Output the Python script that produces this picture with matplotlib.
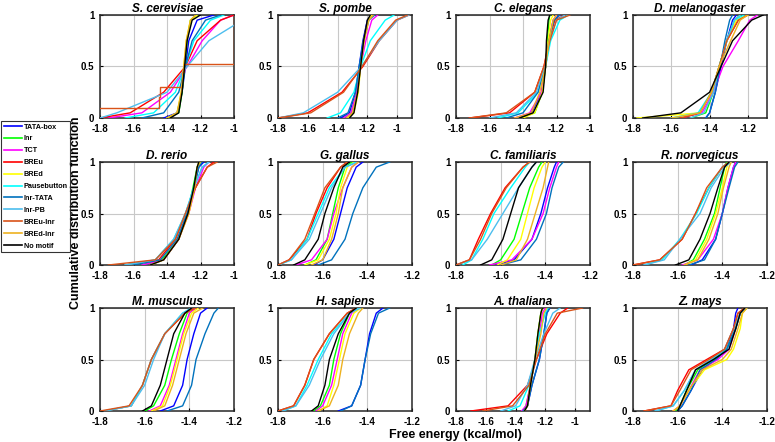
import matplotlib
matplotlib.use("Agg")
import matplotlib.pyplot as plt
from matplotlib.lines import Line2D
import numpy as np

plt.rcParams['font.family'] = ['Liberation Sans', 'DejaVu Sans']
plt.rcParams['axes.unicode_minus'] = False

# ---------------- data ----------------
series_names = ["TATA-box", "Inr", "TCT", "BREu", "BREd", "Pausebutton",
                "Inr-TATA", "Inr-PB", "BREu-Inr", "BREd-Inr", "No motif"]
series_colors = ["#0000FF", "#00FF00", "#FF00FF", "#FF0000", "#FFFF00", "#00FFFF",
                 "#0072BD", "#4DBEEE", "#D95319", "#EDB120", "#000000"]

species = ["S. cerevisiae", "S. pombe", "C. elegans", "D. melanogaster",
           "D. rerio", "G. gallus", "C. familiaris", "R. norvegicus",
           "M. musculus", "H. sapiens", "A. thaliana", "Z. mays"]
x_max = [-1.0, -0.9, -1.0, -1.1, -1.0, -1.2, -1.2, -1.2, -1.2, -1.2, -0.9, -1.2]

# cumulative levels at which free-energy quantiles were read
cdf_levels = [0, 0.05, 0.25, 0.5, 0.75, 0.95, 1]
cdf_levels_zmays = [0, 0.05, 0.2, 0.4, 0.5, 0.6, 0.8, 0.95, 1]

# quantiles (kcal/mol), one row per motif in series_names order (None = special)
scer = [[-1.42, -1.34, -1.31, -1.29, -1.27, -1.22, -1.12],
        [-1.40, -1.33, -1.31, -1.295, -1.28, -1.26, -1.22],
        [-1.75, -1.55, -1.38, -1.28, -1.19, -1.08, -1.00],
        [-1.80, -1.62, -1.42, -1.29, -1.22, -1.08, -1.00],
        [-1.40, -1.34, -1.315, -1.30, -1.285, -1.26, -1.22],
        [-1.65, -1.48, -1.35, -1.29, -1.24, -1.14, -1.06],
        [-1.55, -1.42, -1.33, -1.29, -1.25, -1.17, -1.08],
        [-1.80, -1.70, -1.40, -1.28, -1.15, -0.95, -0.90],
        None,
        [-1.40, -1.34, -1.315, -1.30, -1.285, -1.26, -1.23],
        [-1.38, -1.33, -1.31, -1.295, -1.28, -1.25, -1.20]]
# S. cerevisiae BREu-Inr is a step CDF (few promoters)
scer_breu_inr_x = [-1.90, -1.45, -1.44, -1.31, -1.30, -1.00, -0.90]
scer_breu_inr_f = [0.10, 0.20, 0.30, 0.45, 0.52, 1.00, 1.00]

spom = [[-1.38, -1.32, -1.28, -1.255, -1.23, -1.20, -1.17],
        [-1.36, -1.31, -1.27, -1.25, -1.225, -1.195, -1.17],
        [-1.36, -1.31, -1.27, -1.245, -1.21, -1.17, -1.13],
        [-1.80, -1.60, -1.37, -1.23, -1.12, -1.00, -0.92],
        [-1.33, -1.29, -1.26, -1.245, -1.225, -1.195, -1.17],
        [-1.47, -1.38, -1.29, -1.245, -1.18, -1.08, -1.02],
        [-1.40, -1.33, -1.28, -1.255, -1.225, -1.19, -1.15],
        [-1.80, -1.63, -1.40, -1.24, -1.12, -1.00, -0.92],
        [-1.80, -1.58, -1.36, -1.235, -1.13, -1.01, -0.93],
        [-1.34, -1.30, -1.265, -1.245, -1.22, -1.19, -1.16],
        [-1.32, -1.29, -1.265, -1.245, -1.225, -1.20, -1.18]]

cele = [[-1.42, -1.35, -1.29, -1.265, -1.245, -1.22, -1.18],
        [-1.42, -1.33, -1.285, -1.265, -1.255, -1.245, -1.24],
        [-1.45, -1.36, -1.29, -1.265, -1.245, -1.22, -1.20],
        [-1.72, -1.48, -1.33, -1.275, -1.245, -1.21, -1.15],
        [-1.40, -1.33, -1.285, -1.265, -1.25, -1.235, -1.22],
        [-1.55, -1.43, -1.31, -1.265, -1.235, -1.18, -1.13],
        [-1.50, -1.40, -1.31, -1.27, -1.245, -1.215, -1.18],
        [-1.60, -1.44, -1.32, -1.27, -1.24, -1.20, -1.15],
        [-1.72, -1.50, -1.33, -1.275, -1.24, -1.20, -1.12],
        [-1.45, -1.35, -1.30, -1.265, -1.245, -1.22, -1.20],
        [-1.42, -1.34, -1.28, -1.265, -1.26, -1.25, -1.24]]

dmel = [[-1.42, -1.40, -1.37, -1.34, -1.31, -1.28, -1.26],
        [-1.50, -1.42, -1.38, -1.35, -1.31, -1.27, -1.24],
        [-1.55, -1.44, -1.38, -1.33, -1.25, -1.19, -1.15],
        [-1.55, -1.45, -1.39, -1.35, -1.31, -1.25, -1.20],
        [-1.78, -1.45, -1.39, -1.35, -1.31, -1.26, -1.20],
        [-1.60, -1.46, -1.39, -1.35, -1.31, -1.27, -1.22],
        [-1.42, -1.40, -1.37, -1.345, -1.32, -1.295, -1.28],
        [-1.50, -1.43, -1.38, -1.35, -1.31, -1.27, -1.24],
        [-1.55, -1.45, -1.39, -1.35, -1.31, -1.25, -1.20],
        [-1.60, -1.45, -1.39, -1.35, -1.29, -1.24, -1.20],
        [-1.75, -1.55, -1.40, -1.34, -1.28, -1.18, -1.12]]

drer = [[-1.55, -1.42, -1.33, -1.28, -1.24, -1.21, -1.18],
        [-1.55, -1.43, -1.33, -1.28, -1.245, -1.22, -1.20],
        [-1.55, -1.42, -1.33, -1.27, -1.23, -1.18, -1.15],
        [-1.65, -1.45, -1.35, -1.29, -1.23, -1.16, -1.12],
        [-1.50, -1.42, -1.33, -1.27, -1.235, -1.22, -1.21],
        [-1.65, -1.47, -1.36, -1.29, -1.24, -1.19, -1.15],
        [-1.60, -1.44, -1.34, -1.28, -1.24, -1.21, -1.19],
        [-1.65, -1.47, -1.36, -1.29, -1.24, -1.19, -1.15],
        [-1.75, -1.47, -1.35, -1.29, -1.23, -1.16, -1.10],
        [-1.50, -1.42, -1.33, -1.27, -1.235, -1.22, -1.20],
        [-1.50, -1.42, -1.33, -1.275, -1.24, -1.22, -1.21]]

ggal = [[-1.64, -1.60, -1.55, -1.52, -1.49, -1.45, -1.42],
        [-1.68, -1.63, -1.58, -1.555, -1.53, -1.50, -1.47],
        [-1.72, -1.65, -1.58, -1.55, -1.51, -1.47, -1.44],
        [-1.80, -1.75, -1.67, -1.63, -1.58, -1.52, -1.49],
        [-1.68, -1.62, -1.57, -1.54, -1.52, -1.49, -1.46],
        [-1.80, -1.74, -1.67, -1.62, -1.57, -1.50, -1.45],
        [-1.62, -1.56, -1.50, -1.465, -1.42, -1.36, -1.30],
        [-1.80, -1.74, -1.66, -1.61, -1.56, -1.50, -1.44],
        [-1.80, -1.75, -1.68, -1.635, -1.59, -1.52, -1.49],
        [-1.65, -1.60, -1.56, -1.53, -1.51, -1.47, -1.44],
        [-1.73, -1.68, -1.62, -1.59, -1.55, -1.51, -1.48]]

cfam = [[-1.62, -1.54, -1.46, -1.42, -1.39, -1.36, -1.35],
        [-1.64, -1.60, -1.54, -1.505, -1.47, -1.43, -1.415],
        [-1.65, -1.55, -1.46, -1.41, -1.38, -1.35, -1.34],
        [-1.80, -1.74, -1.70, -1.645, -1.58, -1.50, -1.47],
        [-1.615, -1.57, -1.51, -1.48, -1.45, -1.415, -1.40],
        [-1.77, -1.73, -1.68, -1.63, -1.555, -1.49, -1.47],
        [-1.60, -1.51, -1.44, -1.395, -1.37, -1.34, -1.32],
        [-1.80, -1.73, -1.66, -1.59, -1.52, -1.46, -1.44],
        [-1.80, -1.74, -1.69, -1.64, -1.575, -1.50, -1.47],
        [-1.60, -1.53, -1.48, -1.445, -1.41, -1.39, -1.385],
        [-1.69, -1.64, -1.59, -1.555, -1.52, -1.46, -1.44]]

rnor = [[-1.54, -1.49, -1.43, -1.40, -1.375, -1.35, -1.34],
        [-1.57, -1.53, -1.48, -1.435, -1.41, -1.39, -1.38],
        [-1.58, -1.51, -1.44, -1.40, -1.375, -1.35, -1.34],
        [-1.80, -1.68, -1.58, -1.52, -1.46, -1.40, -1.37],
        [-1.57, -1.52, -1.47, -1.43, -1.40, -1.38, -1.37],
        [-1.75, -1.67, -1.59, -1.515, -1.46, -1.40, -1.37],
        [-1.55, -1.48, -1.43, -1.40, -1.37, -1.345, -1.33],
        [-1.75, -1.66, -1.59, -1.50, -1.45, -1.39, -1.36],
        [-1.80, -1.68, -1.58, -1.52, -1.47, -1.40, -1.37],
        [-1.57, -1.51, -1.46, -1.42, -1.395, -1.37, -1.36],
        [-1.61, -1.55, -1.50, -1.455, -1.42, -1.39, -1.37]]

mmus = [[-1.53, -1.47, -1.43, -1.41, -1.38, -1.35, -1.32],
        [-1.60, -1.56, -1.51, -1.48, -1.445, -1.41, -1.39],
        [-1.58, -1.53, -1.49, -1.46, -1.43, -1.40, -1.37],
        [-1.78, -1.66, -1.61, -1.57, -1.51, -1.42, -1.38],
        [-1.57, -1.52, -1.485, -1.455, -1.425, -1.39, -1.36],
        [-1.78, -1.66, -1.61, -1.57, -1.51, -1.43, -1.39],
        [-1.50, -1.43, -1.39, -1.37, -1.33, -1.29, -1.27],
        [-1.78, -1.66, -1.60, -1.56, -1.51, -1.43, -1.39],
        [-1.80, -1.67, -1.61, -1.57, -1.51, -1.42, -1.37],
        [-1.56, -1.51, -1.475, -1.445, -1.415, -1.38, -1.34],
        [-1.61, -1.57, -1.53, -1.50, -1.47, -1.42, -1.39]]

hsap = [[-1.53, -1.47, -1.43, -1.41, -1.39, -1.36, -1.33],
        [-1.64, -1.61, -1.57, -1.55, -1.52, -1.48, -1.45],
        [-1.63, -1.60, -1.56, -1.535, -1.51, -1.47, -1.44],
        [-1.80, -1.73, -1.68, -1.64, -1.57, -1.49, -1.45],
        [-1.62, -1.58, -1.55, -1.525, -1.50, -1.46, -1.43],
        [-1.78, -1.72, -1.67, -1.62, -1.56, -1.48, -1.44],
        [-1.52, -1.47, -1.43, -1.41, -1.385, -1.35, -1.30],
        [-1.78, -1.72, -1.66, -1.61, -1.55, -1.48, -1.43],
        [-1.80, -1.73, -1.68, -1.64, -1.57, -1.49, -1.45],
        [-1.62, -1.57, -1.53, -1.51, -1.48, -1.44, -1.42],
        [-1.65, -1.62, -1.59, -1.57, -1.53, -1.48, -1.45]]

atha = [[-1.35, -1.32, -1.29, -1.24, -1.21, -1.19, -1.17],
        [-1.35, -1.33, -1.30, -1.27, -1.25, -1.23, -1.22],
        [-1.36, -1.33, -1.30, -1.27, -1.24, -1.22, -1.20],
        [-1.70, -1.45, -1.32, -1.26, -1.19, -1.10, -1.05],
        [-1.34, -1.32, -1.30, -1.27, -1.25, -1.23, -1.22],
        [-1.45, -1.37, -1.31, -1.27, -1.24, -1.20, -1.18],
        [-1.35, -1.32, -1.29, -1.24, -1.21, -1.19, -1.17],
        [-1.50, -1.40, -1.32, -1.27, -1.21, -1.15, -1.10],
        [-1.62, -1.42, -1.31, -1.26, -1.20, -1.12, -0.95],
        [-1.34, -1.32, -1.30, -1.27, -1.23, -1.21, -1.19],
        [-1.34, -1.32, -1.30, -1.27, -1.25, -1.23, -1.22]]

zmay = [[-1.60, -1.58, -1.54, -1.49, -1.43, -1.38, -1.35, -1.34, -1.33],
        [-1.61, -1.59, -1.56, -1.51, -1.44, -1.38, -1.34, -1.32, -1.30],
        [-1.62, -1.59, -1.55, -1.50, -1.42, -1.37, -1.34, -1.32, -1.30],
        [-1.75, -1.63, -1.60, -1.55, -1.47, -1.39, -1.35, -1.33, -1.30],
        [-1.62, -1.59, -1.55, -1.48, -1.38, -1.35, -1.32, -1.31, -1.29],
        [-1.70, -1.62, -1.57, -1.52, -1.45, -1.38, -1.34, -1.32, -1.30],
        [-1.60, -1.58, -1.54, -1.50, -1.43, -1.38, -1.34, -1.32, -1.29],
        [-1.70, -1.62, -1.57, -1.52, -1.45, -1.39, -1.35, -1.32, -1.30],
        [-1.75, -1.63, -1.59, -1.54, -1.46, -1.39, -1.35, -1.33, -1.30],
        [-1.62, -1.59, -1.55, -1.49, -1.40, -1.36, -1.33, -1.31, -1.29],
        [-1.60, -1.59, -1.56, -1.52, -1.44, -1.37, -1.34, -1.32, -1.30]]

panel_data = [scer, spom, cele, dmel, drer, ggal, cfam, rnor, mmus, hsap, atha, zmay]

# ---------------- layout ----------------
W, H = 775, 442
fig = plt.figure(figsize=(W / 100, H / 100), dpi=100)
col_left = [100, 278, 456, 633]
row_top = [15, 162, 308]
aw, ah = 134, 103


def fmt(v):
    s = f"{v:.1f}"
    if s.endswith(".0"):
        s = s[:-2]
    return s


for k, name in enumerate(species):
    r, c = divmod(k, 4)
    l, t = col_left[c], row_top[r]
    ax = fig.add_axes([l / W, 1 - (t + ah) / H, aw / W, ah / H])
    levels = cdf_levels_zmays if name == "Z. mays" else cdf_levels
    for i, rows in enumerate(panel_data[k]):
        if rows is None:
            ax.step(scer_breu_inr_x, scer_breu_inr_f, where='post',
                    color=series_colors[i], lw=1.0, zorder=3)
        else:
            ax.plot(rows, levels, color=series_colors[i], lw=1.0, zorder=3)
    ax.set_xlim(-1.8, x_max[k])
    ax.set_ylim(0, 1)
    xt = np.round(np.arange(-1.8, x_max[k] + 1e-6, 0.2), 1)
    ax.set_xticks(xt)
    ax.set_xticklabels([fmt(v) for v in xt])
    ax.set_yticks([0, 0.5, 1])
    ax.set_yticklabels(["0", "0.5", "1"])
    ax.grid(True, color="#c8c8c8", lw=0.8, zorder=0)
    ax.tick_params(direction='in', length=2.5, width=0.8, labelsize=7)
    ax.tick_params(axis='x', pad=4.5)
    ax.tick_params(axis='y', pad=4.0)
    for lab in ax.get_xticklabels() + ax.get_yticklabels():
        lab.set_fontweight('bold')
    for sp in ax.spines.values():
        sp.set_linewidth(1.1)
        sp.set_color('#262626')
    ax.set_title(name, fontsize=8.5, fontweight='bold', fontstyle='italic', pad=2.5)

fig.text(76 / W, 1 - 213 / H, "Cumulative distribution function", rotation=90,
         ha='center', va='center', fontsize=9, fontweight='bold')
fig.text(455 / W, 1 - 435 / H, "Free energy (kcal/mol)", ha='center', va='center',
         fontsize=9, fontweight='bold')

handles = [Line2D([0], [0], color=col, lw=1.2) for col in series_colors]
leg = fig.legend(handles, series_names, loc='upper left',
                 bbox_to_anchor=(1 / W, 1 - 121 / H), fontsize=5.2,
                 frameon=True, fancybox=False, edgecolor='black',
                 handlelength=2.5, handletextpad=0.3, labelspacing=0.67,
                 borderpad=0.35, borderaxespad=0)
leg.get_frame().set_linewidth(0.8)
for txt in leg.get_texts():
    txt.set_fontweight('bold')

fig.savefig("out.png", dpi=100)
